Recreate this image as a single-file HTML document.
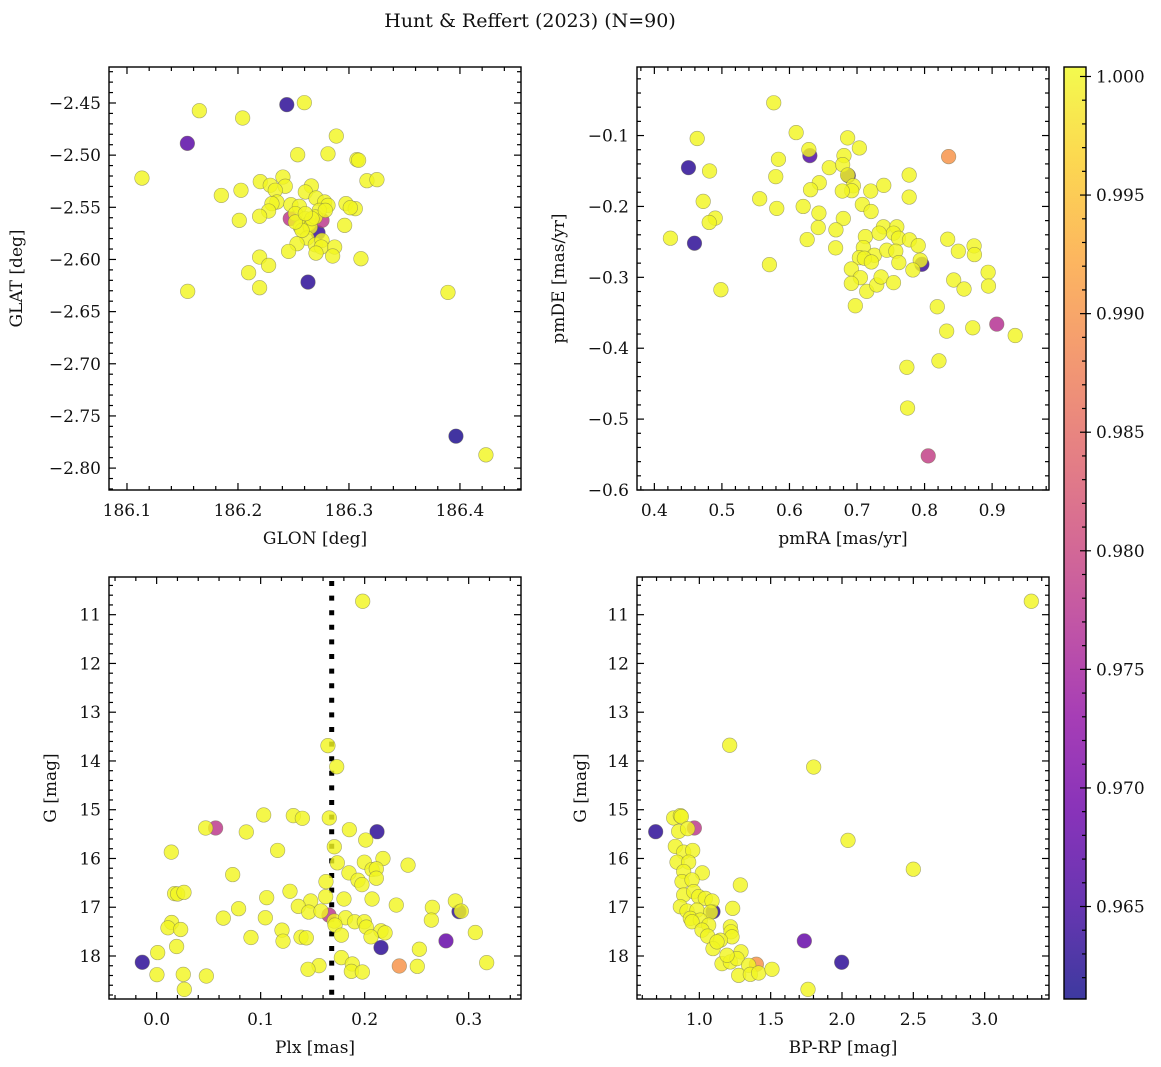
<!DOCTYPE html>
<html><head><meta charset="utf-8"><style>
html,body{margin:0;padding:0;background:#fff}
svg{display:block}
text{font-family:"DejaVu Serif","Liberation Serif",serif;fill:#111}
</style></head><body>
<svg id="fig" width="1161" height="1067" viewBox="0 0 1161 1067">
<text x="530" y="27" text-anchor="middle" font-size="19">Hunt &amp; Reffert (2023) (N=90)</text>
</svg>
<script>
// ---- Panel 1: GLON vs GLAT ----
const glon=[186.244,186.2598,186.1652,186.2042,186.1544,186.2886,186.2538,186.2811,186.3072,186.3087,186.1135,186.3162,186.3252,186.2201,186.2291,186.2405,186.2426,186.2336,186.1850,186.2027,186.2661,186.2607,186.2703,186.2781,186.2351,186.2306,186.2477,186.2553,186.2811,186.2973,186.3057,186.3012,186.2276,186.2195,186.2012,186.2471,186.2757,186.2517,186.2733,186.2607,186.2637,186.2562,186.2652,186.2697,186.2721,186.2961,186.2622,186.2532,186.2456,186.2697,186.2757,186.2751,186.2703,186.2871,186.2853,186.3108,186.2195,186.2276,186.2096,186.2631,186.2195,186.1547,186.3892,186.3964,186.4234,186.2577,186.2517,186.2667,186.2787,186.2607];
const glat=[-2.4516,-2.4497,-2.4574,-2.4644,-2.4887,-2.4817,-2.4996,-2.4987,-2.5043,-2.5049,-2.5220,-2.5245,-2.5235,-2.5254,-2.5289,-2.5210,-2.5298,-2.5337,-2.5386,-2.5337,-2.5296,-2.5353,-2.5411,-2.5449,-2.5449,-2.5465,-2.5475,-2.5491,-2.5481,-2.5465,-2.5513,-2.5504,-2.5536,-2.5586,-2.5625,-2.5609,-2.5625,-2.5561,-2.5529,-2.5609,-2.5657,-2.5689,-2.5689,-2.5593,-2.5744,-2.5673,-2.5795,-2.5849,-2.5923,-2.5859,-2.5817,-2.5881,-2.5939,-2.5881,-2.5967,-2.5993,-2.5977,-2.6057,-2.6127,-2.6217,-2.6271,-2.6306,-2.6316,-2.7694,-2.7873,-2.5721,-2.5641,-2.5609,-2.5529,-2.5561];
const prob1=[0.963,1,1,1,0.967,1,1,1,1,1,1,1,1,1,1,1,1,1,1,1,1,1,1,1,1,1,1,1,1,1,1,1,1,1,1,0.978,0.978,1,1,1,1,1,1,1,0.964,1,1,1,1,1,1,1,1,1,1,1,1,1,1,0.963,1,1,1,0.962,1,1,1,1,1,1];
// ---- Panel 2: pmRA vs pmDE ----
const pmra=[0.5767,0.4634,0.6099,0.6302,0.6287,0.6861,0.7035,0.4505,0.4817,0.5837,0.5797,0.6589,0.6807,0.6787,0.6871,0.6861,0.6441,0.6312,0.6946,0.6921,0.6782,0.7203,0.7396,0.7772,0.7772,0.5559,0.4723,0.5812,0.6203,0.7079,0.7208,0.6436,0.4901,0.4812,0.6797,0.4238,0.4594,0.6426,0.6688,0.6262,0.6683,0.7124,0.7391,0.7327,0.7589,0.7540,0.7614,0.7777,0.7906,0.7094,0.7257,0.7441,0.7574,0.7035,0.7109,0.7213,0.7619,0.7960,0.7936,0.7827,0.8342,0.8500,0.8733,0.8738,0.6916,0.7050,0.6916,0.7144,0.7292,0.7356,0.7540,0.8431,0.8584,0.8941,0.8946,0.8356,0.5703,0.4985,0.6975,0.8188,0.8327,0.8713,0.9069,0.9342,0.8213,0.7738,0.7748,0.8054];
const pmde=[-0.0538,-0.1042,-0.0958,-0.1283,-0.1198,-0.1033,-0.1175,-0.1453,-0.1500,-0.1335,-0.1580,-0.1453,-0.1283,-0.1410,-0.1566,-0.1557,-0.1665,-0.1764,-0.1708,-0.1778,-0.1783,-0.1783,-0.1703,-0.1557,-0.1868,-0.1892,-0.1929,-0.2028,-0.2000,-0.1972,-0.2071,-0.2094,-0.2165,-0.2226,-0.2170,-0.2448,-0.2519,-0.2297,-0.2330,-0.2467,-0.2585,-0.2425,-0.2288,-0.2377,-0.2288,-0.2377,-0.2448,-0.2472,-0.2552,-0.2580,-0.2689,-0.2618,-0.2632,-0.2722,-0.2731,-0.2783,-0.2792,-0.2816,-0.2759,-0.2896,-0.2462,-0.2632,-0.2557,-0.2679,-0.2882,-0.3005,-0.3085,-0.3198,-0.3108,-0.2995,-0.3075,-0.3038,-0.3165,-0.2929,-0.3123,-0.1297,-0.2821,-0.3175,-0.3401,-0.3415,-0.3759,-0.3712,-0.3660,-0.3821,-0.4179,-0.4269,-0.4844,-0.5519];
const prob2=[1,1,1,0.966,1,1,1,0.963,1,1,1,1,1,1,0.964,1,1,1,1,1,1,1,1,1,1,1,1,1,1,1,1,1,1,1,1,1,0.963,1,1,1,1,1,1,1,1,1,1,1,1,1,1,1,1,1,1,1,1,0.964,1,1,1,1,1,1,1,1,1,1,1,1,1,1,1,1,1,0.990,1,1,1,1,1,1,0.977,1,1,1,1,0.979];
// ---- Panel 3: Plx vs G ----
const plx=[0.1981,0.1647,0.1731,0.1029,0.1314,0.1401,0.1660,0.0471,0.0567,0.0862,0.1853,0.2119,0.2010,0.0141,0.1163,0.1708,0.1737,0.1997,0.2176,0.2417,0.0731,0.1849,0.2071,0.2112,0.1936,0.1974,0.2112,0.1628,0.0173,0.0202,0.0263,0.1282,0.1058,0.1625,0.1801,0.2071,0.2304,0.1481,0.1362,0.1462,0.1580,0.0788,0.0641,0.1045,0.1657,0.1708,0.1817,0.1904,0.1997,0.2016,0.2157,0.2196,0.2651,0.2641,0.2872,0.2907,0.2929,0.3064,0.0144,0.0109,0.0231,0.1205,0.1215,0.0907,0.1388,0.1439,0.1715,0.1776,0.2061,0.0192,0.0010,-0.0138,0.2157,0.2782,0.2526,0.1776,0.1881,0.1872,0.1978,0.1561,0.1455,0.2333,0.2506,0.3173,0.0003,0.0256,0.0478,0.0266];
const gmag1=[10.725,13.685,14.118,15.107,15.121,15.176,15.169,15.375,15.375,15.457,15.409,15.451,15.622,15.870,15.835,15.760,16.089,16.076,16.000,16.137,16.330,16.295,16.227,16.213,16.446,16.536,16.405,16.474,16.721,16.728,16.694,16.673,16.804,16.783,16.831,16.831,16.955,16.872,16.982,17.099,17.078,17.030,17.223,17.216,17.161,17.284,17.216,17.298,17.298,17.408,17.484,17.525,17.003,17.264,16.872,17.09,17.08,17.518,17.312,17.422,17.456,17.470,17.696,17.621,17.614,17.628,17.367,17.573,17.607,17.806,17.930,18.129,17.827,17.690,17.861,18.033,18.163,18.315,18.328,18.198,18.273,18.205,18.212,18.136,18.383,18.376,18.411,18.685];
const prob3=[1,1,1,1,1,1,1,1,0.978,1,1,0.963,1,1,1,1,1,1,1,1,1,1,1,1,1,1,1,1,1,1,1,1,1,1,1,1,1,1,1,1,1,1,1,1,0.978,1,1,1,1,1,1,1,1,1,1,0.963,1,1,1,1,1,1,1,1,1,1,1,1,1,1,1,0.963,0.963,0.968,1,1,1,1,1,1,1,0.990,1,1,1,1,1,1];
// ---- Panel 4: BP-RP vs G ----
const bprp=[3.327,1.2126,1.8014,2.0421,2.5000,0.6939,0.8201,0.8668,0.8738,0.8551,0.9650,0.9182,0.8318,0.8902,0.9533,0.8435,0.9252,0.8902,1.0210,1.2874,0.8785,0.9486,0.8902,0.9603,0.9953,1.0421,1.0888,0.8668,1.2336,0.9136,0.9836,1.0958,1.0794,0.9369,1.0070,0.9486,1.0654,1.0187,1.2173,1.2220,1.2290,1.0584,1.1472,1.0958,1.7360,1.9977,1.2921,1.1589,1.2173,1.2640,1.3995,1.3458,1.2757,1.3575,1.4159,1.5093,1.7617,1.1939,1.1238];
const gmag2=[10.725,13.678,14.125,15.629,16.220,15.451,15.169,15.121,15.141,15.444,15.375,15.389,15.753,15.870,15.835,16.076,16.076,16.268,16.295,16.543,16.474,16.440,16.749,16.680,16.783,16.817,16.872,16.989,17.023,17.078,17.058,17.09,17.10,17.229,17.264,17.298,17.367,17.470,17.401,17.504,17.607,17.593,17.676,17.848,17.690,18.129,17.916,18.157,18.122,18.054,18.170,18.191,18.397,18.376,18.349,18.273,18.685,17.985,17.711];
const prob4=[1,1,1,1,1,0.963,1,1,1,1,0.978,1,1,1,1,1,1,1,1,1,1,1,1,1,1,1,1,1,1,1,1,0.963,1,1,1,1,1,1,1,1,1,1,1,1,0.968,0.963,1,1,1,1,0.990,1,1,1,1,1,1,1,1];
// ---- tick labels ----
const ticks1x=[186.1,186.2,186.3,186.4], ticks1y=[-2.45,-2.50,-2.55,-2.60,-2.65,-2.70,-2.75,-2.80];
const ticks2x=[0.4,0.5,0.6,0.7,0.8,0.9], ticks2y=[-0.1,-0.2,-0.3,-0.4,-0.5,-0.6];
const ticks3x=[0.0,0.1,0.2,0.3], ticksG=[11,12,13,14,15,16,17,18];
const ticks4x=[1.0,1.5,2.0,2.5,3.0];
const cbTicks=[1.000,0.995,0.990,0.985,0.980,0.975,0.970,0.965];
const plxRef=[0.1683];
const VMIN=0.9611, VMAX=1.0004;

const NS="http://www.w3.org/2000/svg";
const svg=document.getElementById('fig');
function mk(tag,attrs,parent){const e=document.createElementNS(NS,tag);for(const k in attrs)e.setAttribute(k,attrs[k]);(parent||svg).appendChild(e);return e;}
const PL=[[0,'#0d0887'],[0.1,'#41049d'],[0.2,'#6a00a8'],[0.3,'#8f0da4'],[0.4,'#b12a90'],[0.5,'#cc4778'],[0.6,'#e16462'],[0.7,'#f2844b'],[0.8,'#fca636'],[0.9,'#fcce25'],[1,'#f0f921']];
function hex(h){return [1,3,5].map(i=>parseInt(h.substr(i,2),16));}
function plasma(t){t=Math.max(0,Math.min(1,t));for(let i=1;i<PL.length;i++){if(t<=PL[i][0]){const a=PL[i-1],b=PL[i];const f=(t-a[0])/(b[0]-a[0]);const ca=hex(a[1]),cb=hex(b[1]);return 'rgb('+ca.map((v,j)=>Math.round(v+(cb[j]-v)*f)).join(',')+')';}}return PL[PL.length-1][1];}
function cmap(p){return plasma((p-VMIN)/(VMAX-VMIN));}
const FS=17;

function panel(o){
  const g=mk('g',{});
  
  
  const X=v=>o.x0+(v-o.xmin)/(o.xmax-o.xmin)*(o.x1-o.x0);
  const Y=v=>o.inv? o.y0+(v-o.ymin)/(o.ymax-o.ymin)*(o.y1-o.y0) : o.y1-(v-o.ymin)/(o.ymax-o.ymin)*(o.y1-o.y0);
  const tg=mk('g',{stroke:'#000','stroke-width':1.2},g);
  const eps=1e-9;
  for(let k=Math.ceil(o.xmin/o.xminor-eps); k*o.xminor<=o.xmax+eps; k++){
    const v=k*o.xminor;const px=X(v);const isMaj=Math.abs(v/o.xmajor-Math.round(v/o.xmajor))<1e-6;const L=isMaj?7:4;
    mk('line',{x1:px,x2:px,y1:o.y1,y2:o.y1-L},tg);mk('line',{x1:px,x2:px,y1:o.y0,y2:o.y0+L},tg);
  }
  for(let k=Math.ceil(o.ymin/o.yminor-eps); k*o.yminor<=o.ymax+eps; k++){
    const v=k*o.yminor;const py=Y(v);const isMaj=Math.abs(v/o.ymajor-Math.round(v/o.ymajor))<1e-6;const L=isMaj?7:4;
    mk('line',{x1:o.x0,x2:o.x0+L,y1:py,y2:py},tg);mk('line',{x1:o.x1,x2:o.x1-L,y1:py,y2:py},tg);
  }
  o.xt.forEach(v=>{const t=mk('text',{x:X(v),y:o.y1+26,'text-anchor':'middle','font-size':FS},g);t.textContent=v.toFixed(o.xdec).replace('-','\u2212');
    
    });
  o.yt.forEach(v=>{const t=mk('text',{x:o.x0-8,y:Y(v)+6,'text-anchor':'end','font-size':FS},g);t.textContent=v.toFixed(o.ydec).replace('-','\u2212');
    
    });
  const xl=mk('text',{x:(o.x0+o.x1)/2,y:o.y1+54,'text-anchor':'middle','font-size':FS},g);xl.textContent=o.xlabel;
  
  
  const yl=mk('text',{x:o.ylx,y:(o.y0+o.y1)/2,'text-anchor':'middle','font-size':FS,transform:'rotate(-90 '+o.ylx+' '+(o.y0+o.y1)/2+')'},g);yl.textContent=o.ylabel;
  
  
  const cid='c'+o.name;const cp=mk('clipPath',{id:cid},g);mk('rect',{x:o.x0,y:o.y0,width:o.x1-o.x0,height:o.y1-o.y0},cp);
  const pg=mk('g',{'clip-path':'url(#'+cid+')'},g);
  if(o.vline){o.vline.forEach(v=>{const l=mk('line',{x1:X(v),x2:X(v),y1:o.y0+4,y2:o.y1,stroke:'#000','stroke-width':5,'stroke-dasharray':'5 9.6'},pg);
    
    });}
  const idx=o.xs.map((_,i)=>i).sort((a,b)=>o.ps[a]-o.ps[b]);
  idx.forEach(i=>{const c=mk('circle',{cx:X(o.xs[i]),cy:Y(o.ys[i]),r:7.3,fill:cmap(o.ps[i]),'fill-opacity':0.82,stroke:'#707050','stroke-opacity':0.6,'stroke-width':0.6},pg);
    
    });
  mk('rect',{x:o.x0,y:o.y0,width:o.x1-o.x0,height:o.y1-o.y0,fill:'none',stroke:'#000','stroke-width':1.4},g);
}
panel({name:'glon-glat-panel',x0:109,x1:521,y0:67,y1:490,xmin:186.0838,xmax:186.455,ymin:-2.821,ymax:-2.4155,xmajor:0.1,xminor:0.02,ymajor:0.05,yminor:0.01,xt:ticks1x,yt:ticks1y,xdec:1,ydec:2,xlabel:'GLON [deg]',ylabel:'GLAT [deg]',ylx:22,xs:glon,ys:glat,ps:prob1});
panel({name:'pm-panel',x0:637,x1:1049,y0:67,y1:490,xmin:0.3743,xmax:0.9842,ymin:-0.6,ymax:-0.0033,xmajor:0.1,xminor:0.02,ymajor:0.1,yminor:0.02,xt:ticks2x,yt:ticks2y,xdec:1,ydec:1,xlabel:'pmRA [mas/yr]',ylabel:'pmDE [mas/yr]',ylx:564,xs:pmra,ys:pmde,ps:prob2});
panel({name:'plx-g-panel',x0:109,x1:521,y0:577,y1:999,inv:true,xmin:-0.0458,xmax:0.3503,ymin:10.227,ymax:18.882,xmajor:0.1,xminor:0.02,ymajor:1,yminor:0.2,xt:ticks3x,yt:ticksG,xdec:1,ydec:0,xlabel:'Plx [mas]',ylabel:'G [mag]',ylx:56,xs:plx,ys:gmag1,ps:prob3,vline:plxRef});
panel({name:'cmd-panel',x0:637,x1:1049,y0:577,y1:999,inv:true,xmin:0.563,xmax:3.451,ymin:10.227,ymax:18.882,xmajor:0.5,xminor:0.1,ymajor:1,yminor:0.2,xt:ticks4x,yt:ticksG,xdec:1,ydec:0,xlabel:'BP-RP [mag]',ylabel:'G [mag]',ylx:586,xs:bprp,ys:gmag2,ps:prob4});
// colorbar
const cb=mk('g',{});


const defs=mk('defs',{},cb);const lg=mk('linearGradient',{id:'cbg',x1:0,y1:1,x2:0,y2:0},defs);
for(let i=0;i<=20;i++){mk('stop',{offset:i/20,'stop-color':plasma(i/20)},lg);}
const CB={x0:1064,x1:1086,y0:67,y1:999};
mk('rect',{x:CB.x0,y:CB.y0,width:CB.x1-CB.x0,height:CB.y1-CB.y0,fill:'url(#cbg)','fill-opacity':0.8},cb);
const CY=v=>CB.y1-(v-VMIN)/(VMAX-VMIN)*(CB.y1-CB.y0);
for(let k=Math.ceil(VMIN*1000);k<=Math.floor(VMAX*1000);k++){const py=CY(k/1000);const maj=k%5===0;mk('line',{x1:CB.x1,x2:maj?CB.x1+5:CB.x1-4,y1:py,y2:py,stroke:'#000','stroke-width':1.2},cb);if(maj)mk('line',{x1:CB.x1-6,x2:CB.x1,y1:py,y2:py,stroke:'#000','stroke-width':1.2},cb);}
cbTicks.forEach(v=>{const t=mk('text',{x:1096,y:CY(v)+6,'font-size':FS},cb);t.textContent=v.toFixed(3);
  
  });
mk('rect',{x:CB.x0,y:CB.y0,width:CB.x1-CB.x0,height:CB.y1-CB.y0,fill:'none',stroke:'#000','stroke-width':1.4},cb);
</script>
</body></html>
